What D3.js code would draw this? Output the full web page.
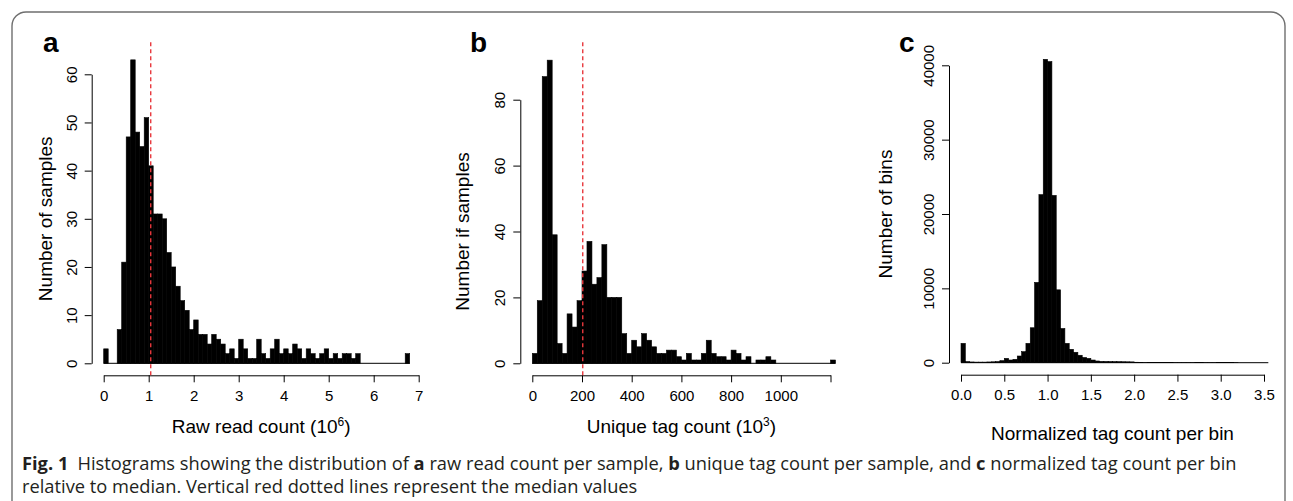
<!DOCTYPE html>
<html>
<head>
<meta charset="utf-8">
<script src="https://cdn.jsdelivr.net/npm/d3@7"></script>
<style>
    body { margin: 0; background: #fff; }
    svg { display: block; }
    .axis text { font-family: "Liberation Sans", Arial, sans-serif; font-size: 15px; fill: #000; }
    .axis path, .axis line { stroke: #000; stroke-width: 1; }
    .title { font-family: "Liberation Sans", Arial, sans-serif; font-size: 19px; fill: #000; }
    .letter { font-family: "Liberation Sans", Arial, sans-serif; font-size: 28px; font-weight: bold; }
    .caption { font-family: "Open Sans", sans-serif; font-size: 18.3px; fill: #231f20; }
</style>
</head>
<body>
<svg id="chart" width="1293" height="501"></svg>
<script>
// Panel a: raw read count per sample (10^6), bins of 0.1
const rawBinWidth = 0.1;
const rawCounts = [3, 0, 0, 7, 21, 47, 63, 48, 45, 51,
    41, 31, 31, 30, 23, 20, 16, 13, 11, 7,
    9, 6, 6, 4, 6, 5, 4, 2, 3, 1,
    5, 3, 1, 1, 5, 2, 1, 3, 5, 2,
    3, 2, 4, 3, 1, 3, 2, 1, 2, 3,
    1, 2, 1, 2, 2, 1, 2, 0, 0, 0,
    0, 0, 0, 0, 0, 0, 0, 2];
const rawMedian = 1.045;
const rawTicksX = [0, 1, 2, 3, 4, 5, 6, 7];
const rawTicksY = [0, 10, 20, 30, 40, 50, 60];

// Panel b: unique tag count per sample (10^3), bins of 20
const tagBinWidth = 20;
const tagCounts = [3, 19, 87, 92, 39, 6, 3, 15, 11, 19,
    28, 37, 24, 26, 36, 20, 20, 20, 9, 3,
    7, 5, 9, 7, 5, 3, 3, 4, 4, 2,
    1, 3, 1, 1, 3, 7, 3, 2, 2, 1,
    4, 3, 1, 2, 0, 1, 1, 2, 1, 0,
    0, 0, 0, 0, 0, 0, 0, 0, 0, 0,
    1];
const tagMedian = 203;
const tagTicksX = [0, 200, 400, 600, 800, 1000, 1200];
const tagTicksY = [0, 20, 40, 60, 80];

// Panel c: normalized tag count per bin, bins of 0.05
const normBinWidth = 0.05;
const normCounts = [2600, 150, 100, 80, 80, 80, 100, 120, 150, 270,
    580, 360, 450, 900, 1480, 2600, 4700, 10800, 22600, 40800,
    40500, 22500, 9800, 4600, 2600, 1800, 1400, 1000, 700, 580,
    360, 230, 180, 170, 160, 150, 140, 130, 120, 110,
    60, 50, 40, 30, 25, 25, 20, 20, 20, 18,
    18, 15, 15, 15, 12, 12, 10, 10, 10, 8,
    8, 6, 6, 5, 0, 0, 0, 0, 0, 0,
    0];
const normTicksX = [0, 0.5, 1, 1.5, 2, 2.5, 3, 3.5];
const normTicksY = [0, 10000, 20000, 30000, 40000];

const svg = d3.select("#chart");
const pad = 12;  // R adds 4% around the data range

// outer frame of the figure
const frame = d3.path();
frame.moveTo(12, 510);
frame.lineTo(12, 26);
frame.arcTo(12, 12, 26, 12, 14);
frame.lineTo(1271, 12);
frame.arcTo(1285, 12, 1285, 26, 14);
frame.lineTo(1285, 510);
svg.append("path")
    .attr("d", frame.toString())
    .attr("fill", "none")
    .attr("stroke", "#6f6f6f")
    .attr("stroke-width", 1.4);

function drawPanel(p) {
    const g = svg.append("g");
    const x = d3.scaleLinear().domain(p.xDomain).range(p.xRange);
    const y = d3.scaleLinear().domain(p.yDomain).range(p.yRange);

    const bins = p.counts.map((c, i) => ({x0: i * p.binWidth, x1: (i + 1) * p.binWidth, count: c}));

    // bars
    g.selectAll("rect")
        .data(bins.filter(d => d.count > 0))
        .enter()
        .append("rect")
        .attr("x", d => x(d.x0))
        .attr("width", d => x(d.x1) - x(d.x0))
        .attr("y", d => y(d.count))
        .attr("height", d => y(0) - y(d.count))
        .attr("fill", "#000")
        .attr("stroke", "#000")
        .attr("stroke-width", 0.6);

    // empty bins still show as a line along zero
    g.append("line")
        .attr("x1", x(0))
        .attr("x2", x(bins[bins.length - 1].x1))
        .attr("y1", y(0))
        .attr("y2", y(0))
        .attr("stroke", "#000")
        .attr("stroke-width", 1);

    // x axis
    const xAxis = g.append("g")
        .attr("class", "axis")
        .attr("transform", `translate(0,${y(0) + pad})`)
        .call(d3.axisBottom(x).tickValues(p.ticksX).tickSize(7).tickSizeOuter(0)
            .tickFormat(p.xFormat));
    xAxis.selectAll("text").attr("y", 15).attr("dy", "0.71em");

    // y axis with rotated labels
    const yAxis = g.append("g")
        .attr("class", "axis")
        .attr("transform", `translate(${x(0) - pad},0)`)
        .call(d3.axisLeft(y).tickValues(p.ticksY).tickSize(7).tickSizeOuter(0)
            .tickFormat(d3.format("d")));
    yAxis.selectAll("text")
        .attr("transform", "rotate(-90)")
        .attr("x", 0)
        .attr("y", -15)
        .attr("dy", 0)
        .attr("text-anchor", "middle");

    // median line
    if (p.median !== undefined) {
        g.append("line")
            .attr("x1", x(p.median))
            .attr("x2", x(p.median))
            .attr("y1", y(0) + pad)
            .attr("y2", y(d3.max(p.counts)) - pad - 8)
            .attr("stroke", "#e8383d")
            .attr("stroke-width", 1.4)
            .attr("stroke-dasharray", "4,3");
    }

    // x title, with optional superscript
    const xMid = (p.xRange[0] + p.xRange[1]) / 2;
    const xt = g.append("text")
        .attr("class", "title")
        .attr("x", xMid)
        .attr("y", y(0) + pad + p.xTitleOffset)
        .attr("text-anchor", "middle");
    xt.append("tspan").text(p.xTitle);
    if (p.xSup) {
        xt.append("tspan").attr("dy", -7).attr("font-size", "12px").text(p.xSup);
        xt.append("tspan").attr("dy", 7).text(")");
    }

    // y title
    const yMid = (p.yRange[0] + p.yRange[1]) / 2;
    g.append("text")
        .attr("class", "title")
        .attr("transform", `translate(${x(0) - pad - p.yTitleOffset},${yMid}) rotate(-90)`)
        .attr("text-anchor", "middle")
        .text(p.yTitle);

    // panel letter
    g.append("text")
        .attr("class", "letter")
        .attr("x", p.letterX)
        .attr("y", 52)
        .text(p.letter);
}

drawPanel({
    letter: "a", letterX: 43,
    counts: rawCounts, binWidth: rawBinWidth, median: rawMedian,
    xDomain: [0, 7], xRange: [103.7, 418.7],
    yDomain: [0, 60], yRange: [363.3, 74.3],
    ticksX: rawTicksX, ticksY: rawTicksY, xFormat: d3.format("d"),
    xTitle: "Raw read count (10", xSup: "6", xTitleOffset: 58,
    yTitle: "Number of samples", yTitleOffset: 40
});

drawPanel({
    letter: "b", letterX: 470,
    counts: tagCounts, binWidth: tagBinWidth, median: tagMedian,
    xDomain: [0, 1200], xRange: [532.3, 830.5],
    yDomain: [0, 80], yRange: [363.3, 99.7],
    ticksX: tagTicksX, ticksY: tagTicksY, xFormat: d => d === 1200 ? "" : d,
    xTitle: "Unique tag count (10", xSup: "3", xTitleOffset: 58,
    yTitle: "Number if samples", yTitleOffset: 51
});

drawPanel({
    letter: "c", letterX: 899,
    counts: normCounts, binWidth: normBinWidth,
    xDomain: [0, 3.5], xRange: [961, 1264],
    yDomain: [0, 40000], yRange: [362.7, 65.3],
    ticksX: normTicksX, ticksY: normTicksY, xFormat: d3.format(".1f"),
    xTitle: "Normalized tag count per bin", xTitleOffset: 65,
    yTitle: "Number of bins", yTitleOffset: 57
});

// caption
const cap1 = svg.append("text").attr("class", "caption").attr("x", 22).attr("y", 470);
cap1.append("tspan").attr("font-weight", "bold").text("Fig. 1");
cap1.append("tspan").text("\u2002Histograms showing the distribution of ");
cap1.append("tspan").attr("font-weight", "bold").text("a");
cap1.append("tspan").text(" raw read count per sample, ");
cap1.append("tspan").attr("font-weight", "bold").text("b");
cap1.append("tspan").text(" unique tag count per sample, and ");
cap1.append("tspan").attr("font-weight", "bold").text("c");
cap1.append("tspan").text(" normalized tag count per bin");

svg.append("text").attr("class", "caption").attr("x", 22).attr("y", 493)
    .text("relative to median. Vertical red dotted lines represent the median values");
</script>
</body>
</html>
